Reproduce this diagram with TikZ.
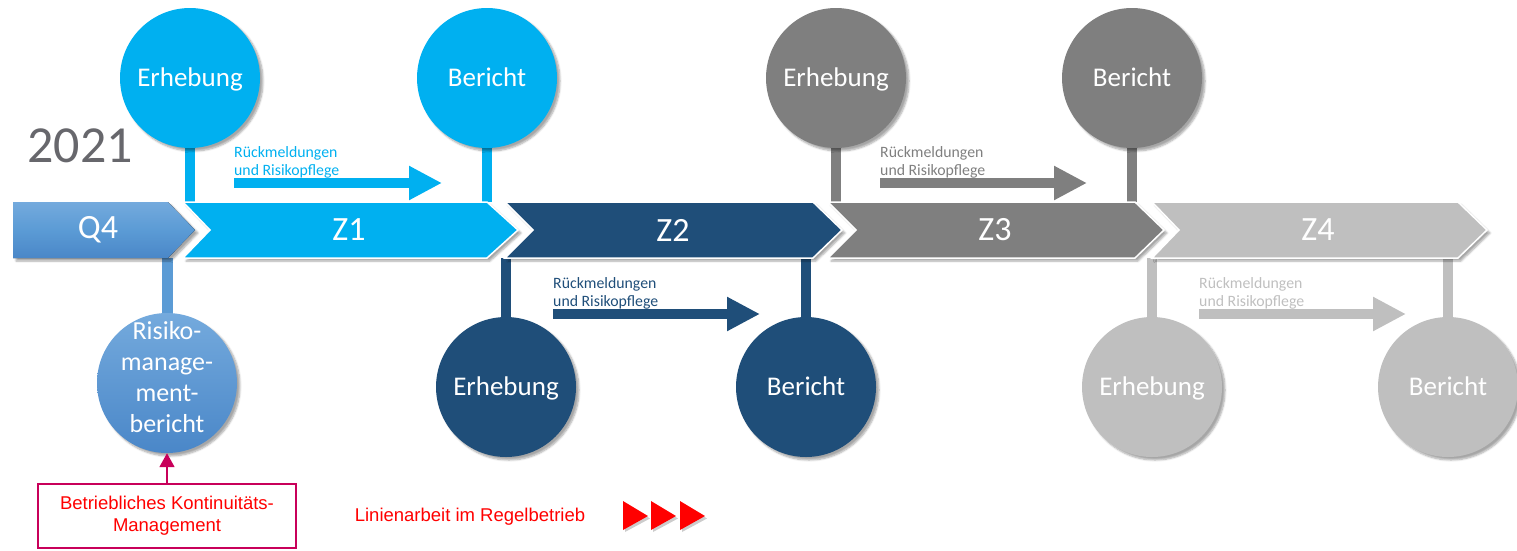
\documentclass[tikz,border=0pt]{standalone}
\usepackage{fontspec}
\setmainfont{Carlito}
\newfontfamily\arialf{Liberation Sans}
\usetikzlibrary{arrows.meta,shadows.blur}
\pgfdeclarelayer{background}
\pgfsetlayers{background,main}

\definecolor{cyanZ}{HTML}{00B0F0}
\definecolor{navyZ}{HTML}{1F4E79}
\definecolor{greyZ}{HTML}{7F7F7F}
\definecolor{lightZ}{HTML}{BFBFBF}
\definecolor{qtop}{HTML}{74AADD}
\definecolor{qbot}{HTML}{4A87C8}
\definecolor{qmid}{HTML}{5B9BD5}
\definecolor{yeargrey}{HTML}{67676C}
\definecolor{bkmred}{HTML}{C8005A}
\definecolor{linered}{HTML}{FF0000}

\tikzset{
  soft/.style={blur shadow={shadow xshift=3pt, shadow yshift=-3pt, shadow blur steps=6, shadow opacity=35}},
  bubshape/.style={circle, minimum size=140pt, inner sep=0pt, text=white, soft},
  bub/.style={bubshape, font=\fontsize{27}{32}\selectfont, text height=17pt, text depth=0pt},
  chevbody/.style={draw=white, line width=1.5pt, soft},
  chevlab/.style={minimum height=56pt, minimum width=20pt, inner sep=0pt,
                  text=white, font=\fontsize{34}{40}\selectfont},
  stem/.style={line width=10pt},
  fbtext/.style={anchor=north west, inner sep=0pt, align=left,
                 font=\fontsize{15.8}{18}\selectfont},
  fbarrow/.style={line width=10pt, -{Triangle[length=33pt,width=32pt]}},
  redtri/.style={fill=linered},
}

\begin{document}
\begin{tikzpicture}[x=1pt,y=-1pt]
\useasboundingbox (0,0) rectangle (1517,550);

% timeline chevrons
\fill[top color=qtop, bottom color=qbot, middle color=qmid, soft]
  (13,202) -- (168,202) -- (195,230) -- (168,258) -- (13,258) -- cycle;
\fill[cyanZ, chevbody]
  (183,202) -- (487,202) -- (518,230) -- (487,258) -- (183,258) -- (210,230) -- cycle;
\fill[navyZ, chevbody]
  (505,202) -- (813,202) -- (842,230) -- (813,258) -- (505,258) -- (533,230) -- cycle;
\fill[greyZ, chevbody]
  (828,202) -- (1135,202) -- (1164,230) -- (1135,258) -- (828,258) -- (856,230) -- cycle;
\fill[lightZ, chevbody]
  (1152,202) -- (1458,202) -- (1487,230) -- (1458,258) -- (1152,258) -- (1179,230) -- cycle;

\node[chevlab] (q4) at (98,230)   {Q4};
\node[chevlab] (z1) at (349,230)  {Z1};
\node[chevlab] (z2) at (673,230)  {Z2};
\node[chevlab] (z3) at (995,230)  {Z3};
\node[chevlab] (z4) at (1318,230) {Z4};

% year
\node[text=yeargrey, font=\fontsize{52}{58}\selectfont, inner sep=0pt] (year) at (80,146) {2021};

% milestone circles
\node[bub, fill=cyanZ]  (e1) at (190,78)   {Erhebung};
\node[bub, fill=cyanZ]  (b1) at (487,78)   {Bericht};
\node[bub, fill=navyZ]  (e2) at (506,387)  {Erhebung};
\node[bub, fill=navyZ]  (b2) at (806,387)  {Bericht};
\node[bub, fill=greyZ]  (e3) at (836,78)   {Erhebung};
\node[bub, fill=greyZ]  (b3) at (1132,78)  {Bericht};
\node[bub, fill=lightZ] (e4) at (1152,387) {Erhebung};
\node[bub, fill=lightZ] (b4) at (1448,387) {Bericht};
\node[bubshape, top color=qtop, bottom color=qbot, align=center,
      font=\fontsize{26}{31}\selectfont] (rb) at (167,383) {};
\node[text=white, align=center, inner sep=0pt,
      font=\fontsize{26}{31}\selectfont] (rbtext) at (167,377)
      {Risiko-\\manage-\\ment-\\bericht};

% stems joining circles to the timeline
\begin{pgfonlayer}{background}
\draw[stem, cyanZ]  (e1.center) -- (e1 |- z1.north);
\draw[stem, cyanZ]  (b1.center) -- (b1 |- z1.north);
\draw[stem, navyZ]  (e2.center) -- (e2 |- z2.south);
\draw[stem, navyZ]  (b2.center) -- (b2 |- z2.south);
\draw[stem, greyZ]  (e3.center) -- (e3 |- z3.north);
\draw[stem, greyZ]  (b3.center) -- (b3 |- z3.north);
\draw[stem, lightZ] (e4.center) -- (e4 |- z4.south);
\draw[stem, lightZ] (b4.center) -- (b4 |- z4.south);
\draw[stem, qmid, line width=11pt] (rb.center) -- (rb |- q4.south);
\end{pgfonlayer}

% feedback arrows
\node[fbtext, text=cyanZ]  (t1) at (234,146)  {Rückmeldungen\\und Risikopflege};
\node[fbtext, text=navyZ]  (t2) at (553,277)  {Rückmeldungen\\und Risikopflege};
\node[fbtext, text=greyZ]  (t3) at (880,146)  {Rückmeldungen\\und Risikopflege};
\node[fbtext, text=lightZ] (t4) at (1199,277) {Rückmeldungen\\und Risikopflege};
\coordinate (a1s) at (234,183);  \coordinate (a1e) at (442,183);
\coordinate (a2s) at (553,314);  \coordinate (a2e) at (760,314);
\coordinate (a3s) at (880,183);  \coordinate (a3e) at (1087,183);
\coordinate (a4s) at (1199,314); \coordinate (a4e) at (1406,314);
\draw[fbarrow, cyanZ]  (a1s) -- (a1e);
\draw[fbarrow, navyZ]  (a2s) -- (a2e);
\draw[fbarrow, greyZ]  (a3s) -- (a3e);
\draw[fbarrow, lightZ] (a4s) -- (a4e);

% business continuity box
\node[draw=bkmred, line width=1.6pt, minimum width=258pt, minimum height=64pt,
      inner sep=0pt, align=center, text=linered,
      font=\arialf\fontsize{18.5}{22}\selectfont] (bkm) at (167,516)
      {Betriebliches Kontinuitäts-\\Management};
\draw[bkmred, line width=1.8pt, -{Triangle[length=14pt,width=15pt]}] (bkm.north) -- (rb.south);

% legend
\node[text=linered, font=\arialf\fontsize{18.5}{22}\selectfont, inner sep=0pt] (leg) at (470,517)
      {Linienarbeit im Regelbetrieb};
\foreach \x in {623,651,680}{
  \fill[black!20] (\x+2,503) -- (\x+27,518.5) -- (\x+2,532) -- cycle;
  \fill[redtri] (\x,501) -- (\x+25,516) -- (\x,530) -- cycle;
}
\end{tikzpicture}
\end{document}
